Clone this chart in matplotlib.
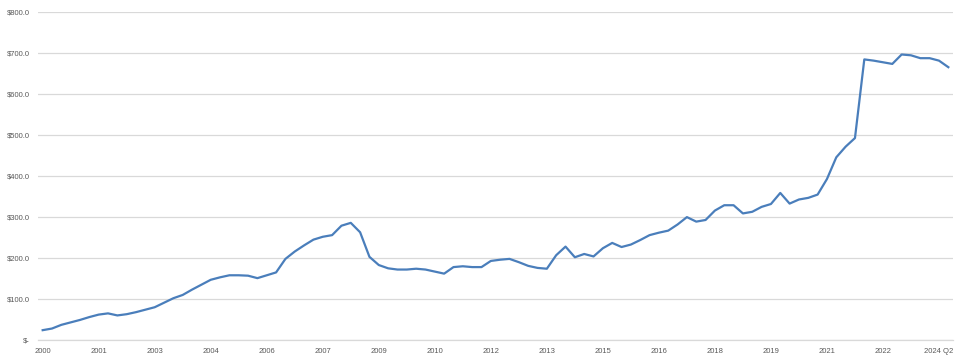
import matplotlib
matplotlib.use("Agg")
import matplotlib.pyplot as plt
from matplotlib.ticker import FuncFormatter

values = [
    24, 28, 37, 43, 49, 56, 62, 65, 60, 63, 68, 74,
    80, 91, 102, 110, 123, 135, 147, 153, 158, 158, 157, 151,
    158, 165, 198, 216, 231, 245, 252, 256, 279, 286, 263, 203,
    183, 175, 172, 172, 174, 172, 167, 162, 178, 180, 178, 178,
    193, 196, 198, 190, 181, 176, 174, 207, 228, 202, 210, 204,
    224, 237, 227, 233, 244, 256, 262, 267, 282, 300, 289, 293,
    316, 329, 329, 309, 313, 325, 332, 359, 333, 343, 347, 355,
    393, 446, 472, 493, 685, 682, 678, 674, 697, 695, 688, 688,
    682, 666,
]
tick_positions = [0, 6, 12, 18, 24, 30, 36, 42, 48, 54, 60, 66, 72, 78, 84, 90, 96]
tick_labels = ["2000", "2001", "2003", "2004", "2006", "2007", "2009", "2010",
               "2012", "2013", "2015", "2016", "2018", "2019", "2021", "2022", "2024 Q2"]
y_ticks = [0, 100, 200, 300, 400, 500, 600, 700, 800]

plt.rcParams['font.family'] = ['Liberation Sans', 'DejaVu Sans']

fig = plt.figure(figsize=(9.70, 3.61), dpi=100)
ax = fig.add_axes([38/970, 1 - 340/361, (953 - 38)/970, (340 - 12.3)/361])

ax.plot(range(len(values)), values, color="#4a7ebb", linewidth=1.6, solid_joinstyle="round")

ax.set_xlim(-0.5, len(values) - 0.5)
ax.set_ylim(0, 800)
ax.set_yticks(y_ticks)
ax.yaxis.set_major_formatter(FuncFormatter(lambda v, p: "$-" if v == 0 else f"${v:.1f}"))
ax.set_xticks(tick_positions)
ax.set_xticklabels(tick_labels)
ax.grid(axis="y", color="#d9d9d9", linewidth=0.9)
ax.set_axisbelow(True)
for s in ["top", "right", "left"]:
    ax.spines[s].set_visible(False)
ax.spines["bottom"].set_color("#d9d9d9")
ax.spines["bottom"].set_linewidth(0.9)
ax.tick_params(axis="both", length=0, labelsize=5.5, colors="#595959")
ax.tick_params(axis="y", pad=6)
ax.tick_params(axis="x", pad=6)

fig.savefig("out.png", dpi=100)
